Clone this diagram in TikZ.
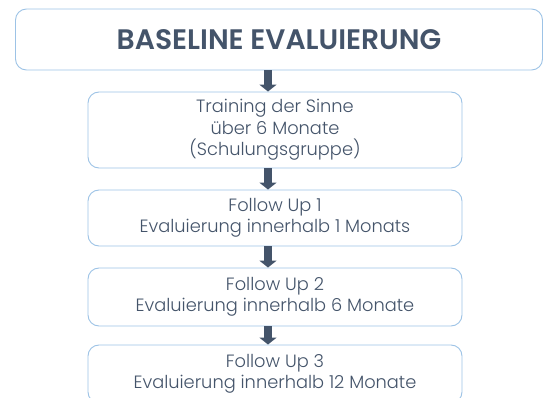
\documentclass[tikz,border=0pt]{standalone}
\usepackage{fontspec}
\setmainfont{Poppins}[UprightFont=* Light, BoldFont=* SemiBold]
\usetikzlibrary{arrows.meta}
\definecolor{txt}{HTML}{44546A}
\definecolor{edge}{HTML}{9DC3E6}
\tikzset{
  box/.style={draw=edge, line width=0.9pt, rounded corners=11pt, fill=white,
    text=txt, align=center, inner sep=0pt, font=\fontsize{17.8}{21.5}\selectfont},
  flow/.style={draw=txt, line width=8pt, -{Triangle[width=17pt,length=7pt]}}
}
\begin{document}
\begin{tikzpicture}[x=1pt,y=-1pt]
\useasboundingbox (0,0) rectangle (544,398);
\clip (0,0) rectangle (544,398);
\node[box, minimum width=527pt, minimum height=61pt,
  font=\fontsize{28.2}{30}\selectfont\bfseries] (b0) at (279,39.5) {BASELINE EVALUIERUNG};
\node[box, minimum width=374pt, minimum height=76pt] (b1) at (275,130)
  {Training der Sinne\\ über 6 Monate\\ (Schulungsgruppe)};
\node[box, minimum width=374pt, minimum height=56pt] (b2) at (275,218)
  {Follow Up 1\\ Evaluierung innerhalb 1 Monats};
\node[box, minimum width=374pt, minimum height=58pt] (b3) at (275,297)
  {Follow Up 2\\ Evaluierung innerhalb 6 Monate};
\node[box, minimum width=374pt, minimum height=58pt] (b4) at (275,374)
  {Follow Up 3\\ Evaluierung innerhalb 12 Monate};
\draw[flow] (b0.south -| 268,0) -- (b1.north -| 268,0);
\draw[flow] (b1.south -| 268,0) -- (b2.north -| 268,0);
\draw[flow] (b2.south -| 268,0) -- (b3.north -| 268,0);
\draw[flow] (b3.south -| 268,0) -- (b4.north -| 268,0);
\end{tikzpicture}
\end{document}
